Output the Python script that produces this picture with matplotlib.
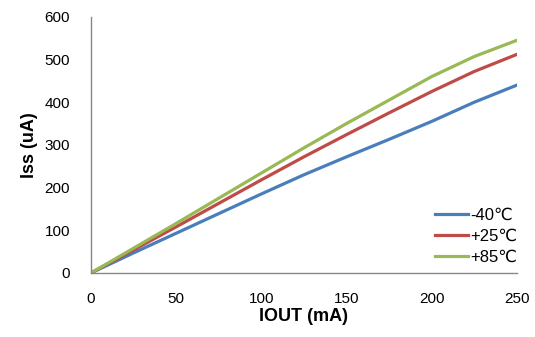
import matplotlib
matplotlib.use("Agg")
import matplotlib.pyplot as plt

plt.rcParams["font.family"] = ["Liberation Sans", "DejaVu Sans"]

# %% data
iout = [0, 25, 50, 75, 100, 125, 150, 175, 200, 225, 250]  # mA
iss_m40 = [0, 47, 93, 139, 185, 230, 272, 313, 355, 400, 440]
iss_p25 = [0, 54, 108, 163, 218, 272, 324, 375, 425, 472, 512]
iss_p85 = [0, 58, 116, 175, 234, 293, 350, 405, 460, 507, 545]
labels = ["-40\u2103", "+25\u2103", "+85\u2103"]
colors = ["#4A7EBB", "#BE4B48", "#98B954"]

# %% plot
fig = plt.figure(figsize=(5.35, 3.37), dpi=100)
ax = fig.add_axes([0.170, 0.190, 0.796, 0.760])

for ys, lab, col in zip([iss_m40, iss_p25, iss_p85], labels, colors):
    ax.plot(iout, ys, color=col, lw=2.3, label=lab, solid_joinstyle="round")

ax.set_xlim(0, 250)
ax.set_ylim(0, 600)
ax.set_xticks(range(0, 251, 50))
ax.set_yticks(range(0, 601, 100))
ax.tick_params(length=0, labelsize=11, colors="#000000")
ax.tick_params(axis="y", pad=15)
ax.tick_params(axis="x", pad=14)
for s in ["top", "right"]:
    ax.spines[s].set_visible(False)
for s in ["left", "bottom"]:
    ax.spines[s].set_color("#868686")
    ax.spines[s].set_linewidth(1.0)

ax.set_xlabel("IOUT (mA)", fontsize=13, fontweight="bold", labelpad=1)
ax.set_ylabel("Iss (uA)", fontsize=13, fontweight="bold", labelpad=5)

ax.legend(loc="lower right", bbox_to_anchor=(1.02, 0.0), frameon=False,
          fontsize=12, handlelength=2.0, handletextpad=0.1,
          labelspacing=0.35, borderaxespad=0.1)

fig.savefig("out.png", dpi=100)
